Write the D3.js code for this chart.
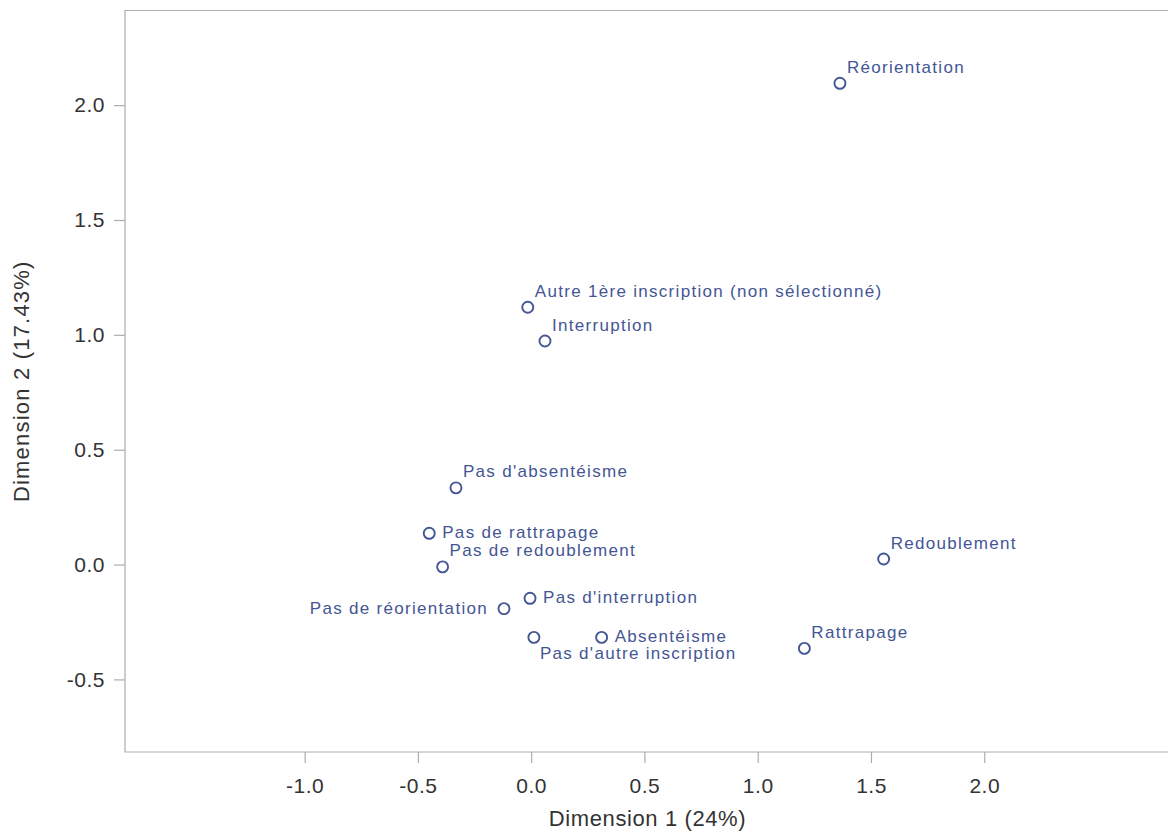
<!DOCTYPE html>
<html lang="fr">
<head>
<meta charset="utf-8">
<title>Dimension 1 x Dimension 2</title>
<script src="https://cdn.jsdelivr.net/npm/d3@7"></script>
<style>
  html, body { margin: 0; padding: 0; background: #fff; }
  svg { display: block; font-family: Arial, "Liberation Sans", sans-serif; }
</style>
</head>
<body>
<svg id="chart" width="1168" height="840"></svg>
<script>
// ── Data ─────────────────────────────────────────────
const labels = [
  'Réorientation',
  'Autre 1ère inscription (non sélectionné)',
  'Interruption',
  "Pas d'absentéisme",
  'Pas de rattrapage',
  'Pas de redoublement',
  'Pas de réorientation',
  "Pas d'interruption",
  "Pas d'autre inscription",
  'Absentéisme',
  'Redoublement',
  'Rattrapage',
];
const dim1 = [1.363, -0.015, 0.061, -0.332, -0.450, -0.391, -0.120, -0.005, 0.012, 0.311, 1.556, 1.206];
const dim2 = [2.095, 1.120, 0.973, 0.334, 0.136, -0.010, -0.192, -0.147, -0.317, -0.317, 0.024, -0.365];

const xTicks = [-1.0, -0.5, 0.0, 0.5, 1.0, 1.5, 2.0];
const yTicks = [-0.5, 0.0, 0.5, 1.0, 1.5, 2.0];

const xTitle = 'Dimension 1 (24%)';
const yTitle = 'Dimension 2 (17.43%)';

// where each label sits around its marker
const placement = {
  "Pas de rattrapage": 'e',
  "Pas d'interruption": 'e',
  'Absentéisme': 'e',
  'Pas de réorientation': 'w',
  "Pas d'autre inscription": 'se',
};

const points = labels.map((name, i) => ({ name, x: dim1[i], y: dim2[i] }));

// ── Layout ───────────────────────────────────────────
const plot = { left: 125, top: 10.5, right: 1170, bottom: 752 };
const ink = '#445694';
const axisColor = '#a9aeb1';

const x = d3.scaleLinear().domain([-1.793, 2.82]).range([plot.left, plot.right]);
const y = d3.scaleLinear().domain([-0.816, 2.412]).range([plot.bottom, plot.top]);

const svg = d3.select('#chart');

// frame (right edge runs off the picture)
svg.append('path')
  .attr('d', `M${plot.right + 6},${plot.top}H${plot.left}V${plot.bottom}H${plot.right + 6}`)
  .attr('fill', 'none')
  .attr('stroke', axisColor)
  .attr('stroke-width', 1.2);

// ── Axes ─────────────────────────────────────────────
const fmt = v => d3.format('.1f')(v).replace('\u2212', '-');

const gx = svg.append('g')
  .attr('transform', `translate(0,${plot.bottom})`)
  .call(d3.axisBottom(x).tickValues(xTicks).tickFormat(fmt).tickSize(11).tickPadding(15).tickSizeOuter(0));

const gy = svg.append('g')
  .attr('transform', `translate(${plot.left},0)`)
  .call(d3.axisLeft(y).tickValues(yTicks).tickFormat(fmt).tickSize(11).tickPadding(9).tickSizeOuter(0));

[gx, gy].forEach(g => {
  g.select('.domain').remove();
  g.selectAll('.tick line').attr('stroke', axisColor).attr('stroke-width', 1.2);
  g.selectAll('.tick text')
    .attr('fill', '#333')
    .attr('font-size', '21px')
    .attr('letter-spacing', '0.5px');
});

svg.append('text')
  .attr('x', (plot.left + plot.right) / 2)
  .attr('y', 826)
  .attr('text-anchor', 'middle')
  .attr('fill', '#333')
  .attr('font-size', '22px')
  .attr('letter-spacing', '0.6px')
  .text(xTitle);

svg.append('text')
  .attr('transform', `translate(29,${(plot.top + plot.bottom) / 2}) rotate(-90)`)
  .attr('text-anchor', 'middle')
  .attr('fill', '#333')
  .attr('font-size', '22px')
  .attr('letter-spacing', '1.2px')
  .text(yTitle);

// ── Points ───────────────────────────────────────────
const offsets = {
  ne: { dx: 7,   dy: -10.5, anchor: 'start' },
  e:  { dx: 13,  dy: 5,     anchor: 'start' },
  w:  { dx: -16, dy: 5,     anchor: 'end' },
  se: { dx: 6,   dy: 22,    anchor: 'start' },
};

const pts = svg.append('g').selectAll('g.pt')
  .data(points)
  .join('g')
  .attr('class', 'pt')
  .attr('transform', d => `translate(${x(d.x)},${y(d.y)})`);

pts.append('circle')
  .attr('r', 5.5)
  .attr('fill', 'none')
  .attr('stroke', ink)
  .attr('stroke-width', 1.9);

pts.append('text')
  .each(function (d) {
    const o = offsets[placement[d.name] || 'ne'];
    d3.select(this)
      .attr('x', o.dx)
      .attr('y', o.dy)
      .attr('text-anchor', o.anchor);
  })
  .attr('fill', ink)
  .attr('font-size', '17px')
  .attr('letter-spacing', '1.3px')
  .text(d => d.name);
</script>
</body>
</html>
